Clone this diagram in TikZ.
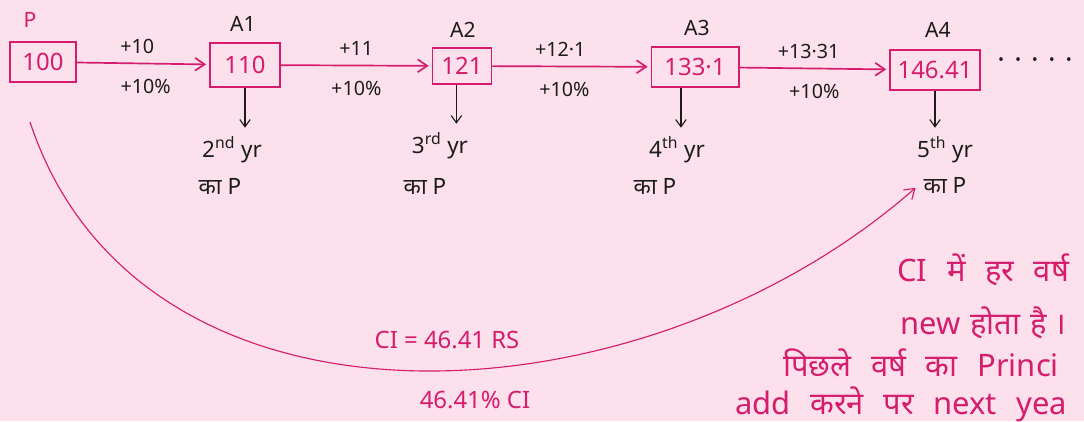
\documentclass[tikz,border=0pt]{standalone}
\usepackage{fontspec}
\setmainfont{Noto Sans}
\newfontfamily\hindi[Script=Devanagari]{Noto Sans}
\usetikzlibrary{positioning,arrows.meta}
\definecolor{bgpink}{RGB}{252,225,236}
\definecolor{ink}{RGB}{214,28,108}
\definecolor{pencil}{RGB}{28,28,28}
\newcommand\wgap{\hspace{14pt}}

\begin{document}
\begin{tikzpicture}[x=0.025cm, y=-0.025cm,
    >={Straight Barb[length=2.4mm,width=3.2mm]},
    amt/.style={draw=ink, line width=1.3pt, text=ink, minimum height=28pt,
      inner sep=0pt, font=\fontsize{17}{19}\selectfont},
    tag/.style={text=pencil, font=\fontsize{15}{17}\selectfont},
    rate/.style={text=pencil, font=\fontsize{14}{16}\selectfont},
    yrtxt/.style={text=pencil, font=\hindi\fontsize{16}{18}\selectfont},
    cinote/.style={text=ink, font=\fontsize{17}{19}\selectfont},
    note/.style={text=ink, anchor=west, inner sep=0pt,
      font=\hindi\fontsize{22}{24}\selectfont}]
  \useasboundingbox (0,0) rectangle (1084,421);
  \clip (0,0) rectangle (1084,421);
  \fill[bgpink] (0,0) rectangle (1084,421);

  \node[amt, minimum width=47pt] (P)  at (43,62)  {100};
  \node[amt, minimum width=50pt, minimum height=31pt] (A1) at (245,65) {110};
  \node[amt, minimum width=42pt, minimum height=26pt] (A2) at (462,66) {121};
  \node[amt, minimum width=62pt] (A3) at (695,67) {133·1};
  \node[amt, minimum width=64pt, minimum height=29pt] (A4) at (935,70) {146.41};
  \node[text=pencil, font=\fontsize{20}{22}\selectfont] (more) at (1035,64) {·\,\,·\,\,·\,\,·\,\,·};

  \node[tag, text=ink] (Ptag) at (30,20) {P};
  \node[tag] (A1tag) at (243,24) {A1};
  \node[tag] (A2tag) at (463,30) {A2};
  \node[tag] (A3tag) at (697,28) {A3};
  \node[tag] (A4tag) at (938,30) {A4};

  \path[->, draw=ink, line width=1.2pt, shorten >=2pt,
        every node/.append style={rate}]
    (P)  edge node[above=3pt, xshift=-4pt]{+10}    node[below=7pt, xshift=2pt]{+10\%} (A1)
    (A1) edge node[above=3pt]{+11}                 node[below=7pt]{+10\%} (A2)
    (A2) edge node[above=3pt, xshift=-8pt]{+12·1}  node[below=7pt, xshift=-5pt]{+10\%} (A3)
    (A3) edge node[above=3pt, xshift=-4pt]{+13·31} node[below=7pt]{+10\%} (A4);

  \node[yrtxt] (yr2) at (232,150) {2\textsuperscript{nd} yr};
  \node[yrtxt] (yr3) at (440,146) {3\textsuperscript{rd} yr};
  \node[yrtxt] (yr4) at (677,150) {4\textsuperscript{th} yr};
  \node[yrtxt] (yr5) at (945,150) {5\textsuperscript{th} yr};
  \node[yrtxt] (kp2) at (220,186) {का P};
  \node[yrtxt] (kp3) at (425,186) {का P};
  \node[yrtxt] (kp4) at (655,186) {का P};
  \node[yrtxt] (kp5) at (945,185) {का P};

  \begin{scope}[->, pencil, line width=0.8pt, >={Straight Barb[length=1.8mm,width=2.6mm]}, shorten >=3pt]
    \draw (A1) -- (A1 |- yr2.north);
    \draw ([xshift=-4pt]A2.south) -- ([xshift=-4pt]A2.south |- yr3.north);
    \draw ([xshift=-10pt]A3.south) -- ([xshift=-10pt]A3.south |- yr4.north);
    \draw (A4) -- (A4 |- yr5.north);
  \end{scope}

  \coordinate (cistart) at (30,122);
  \draw[->, ink, line width=0.8pt, shorten >=3pt]
    (cistart) .. controls (140,455) and (640,430) .. (kp5.west);

  \node[cinote] (ci)    at (447,340) {CI = 46.41 RS};
  \node[cinote] (cipct) at (475,400) {46.41\% CI};

  \node[note] (n1) at (897,270) {CI\wgap में\wgap हर\wgap वर्ष};
  \node[note] (n2) at (900,323) {new\hspace{7pt}होता\hspace{7pt}है ।};
  \node[note] (n3) at (783,363) {पिछले\wgap वर्ष\wgap का\wgap Princi};
  \node[note] (n4) at (735,404) {add\wgap करने\wgap पर\wgap next\wgap yea};
\end{tikzpicture}
\end{document}
